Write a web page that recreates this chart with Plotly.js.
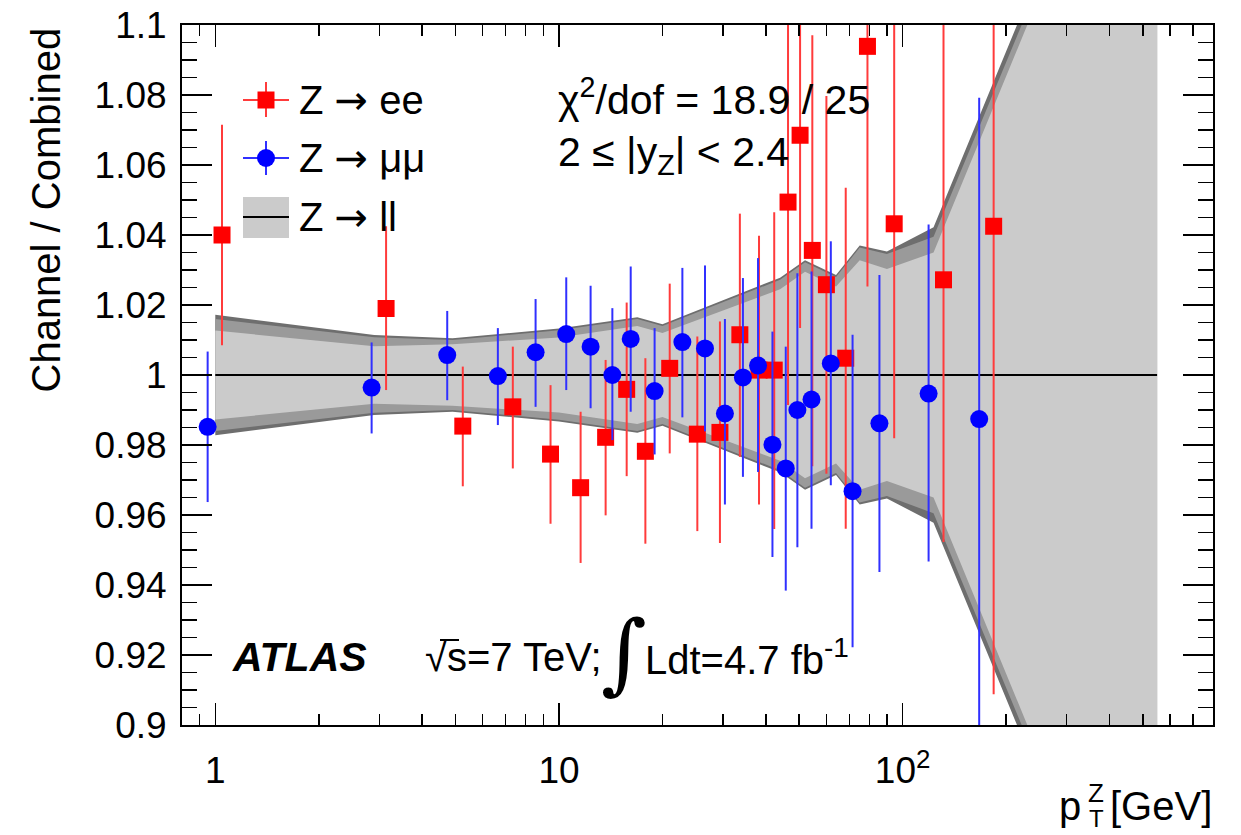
<!DOCTYPE html>
<html>
<head>
<meta charset="utf-8">
<script src="https://cdn.plot.ly/plotly-3.0.1.min.js"></script>
<style>html,body{margin:0;padding:0;background:#fff;}#chart{width:1241px;height:835px;}</style>
</head>
<body>
<div id="chart"></div>
<script>
// ---- Data ----
// Z -> ee
var ptEE    = [1.046, 3.14, 5.25, 7.34, 9.45, 11.56, 13.67, 15.74, 17.84, 21.0, 25.27, 29.4, 33.6, 38.2, 42.3, 46.4, 50.3, 54.6, 60.0, 68.3, 79.0, 94.5, 131.5, 184];
var ratioEE = [1.040, 1.019, 0.9854, 0.9909, 0.9774, 0.9678, 0.9822, 0.9959, 0.9782, 1.0019, 0.9831, 0.9836, 1.0115, 1.0014, 1.0014, 1.0494, 1.0685, 1.0356, 1.0258, 1.0048, 1.0939, 1.0432, 1.0272, 1.0425];
var errEEup = [0.0315, 0.0235, 0.017, 0.0172, 0.0197, 0.0217, 0.0221, 0.0248, 0.0266, 0.0242, 0.0279, 0.0317, 0.0346, 0.0384, 0.0451, 0.058, 0.055, 0.0615, 0.0539, 0.0487, 0.0686, 0.0613, 0.075, 0.134];
var errEEdn = [0.0315, 0.0233, 0.0172, 0.0176, 0.0199, 0.0215, 0.0223, 0.0248, 0.0264, 0.0243, 0.0277, 0.0316, 0.0349, 0.0384, 0.0454, 0.058, 0.0551, 0.0617, 0.054, 0.0487, 0.0686, 0.0613, 0.0749, 0.1337];
// Z -> mumu
var ptMM    = [0.95, 2.85, 4.73, 6.64, 8.55, 10.5, 12.36, 14.3, 16.17, 18.98, 22.86, 26.6, 30.4, 34.3, 37.95, 41.8, 45.7, 49.4, 54.3, 61.8, 71.5, 85.6, 119, 167];
var ratioMM = [0.9852, 0.9964, 1.0057, 0.9997, 1.0065, 1.0117, 1.0081, 1.0000, 1.0103, 0.9954, 1.0094, 1.0076, 0.989, 0.9993, 1.0027, 0.9801, 0.9733, 0.99, 0.993, 1.0033, 0.9668, 0.9862, 0.9947, 0.9874];
var errMMup = [0.0215, 0.0129, 0.0126, 0.0137, 0.0152, 0.0162, 0.0174, 0.0191, 0.0207, 0.018, 0.0212, 0.0237, 0.027, 0.0284, 0.0307, 0.0323, 0.0348, 0.0391, 0.0366, 0.0349, 0.0447, 0.0424, 0.0483, 0.0918];
var errMMdn = [0.0215, 0.0131, 0.0129, 0.014, 0.0156, 0.016, 0.0176, 0.0186, 0.0208, 0.0181, 0.0215, 0.0237, 0.026, 0.0284, 0.0304, 0.0321, 0.0349, 0.0392, 0.0369, 0.0348, 0.0446, 0.0425, 0.048, 0.092];
// Combined Z -> ll uncertainty band (half widths around 1)
var bandPt    = [1, 2.9, 4.9, 10, 16.9, 20, 44, 52, 64, 75, 90, 123, 550];
var bandDark  = [0.0172, 0.0114, 0.0105, 0.0133, 0.0165, 0.0145, 0.0278, 0.0328, 0.0286, 0.0370, 0.0353, 0.0422, 0.197];
var bandMid   = [0.0160, 0.0108, 0.0100, 0.0128, 0.0160, 0.0140, 0.0272, 0.0322, 0.0280, 0.0364, 0.0346, 0.0395, 0.193];
var bandInner = [0.0127, 0.0082, 0.0088, 0.0107, 0.0140, 0.0120, 0.0245, 0.0295, 0.0253, 0.0328, 0.0303, 0.0350, 0.190];
var combinedRatio = 1.0;
// Axis ticks
var yTickVals = [0.9, 0.92, 0.94, 0.96, 0.98, 1.0, 1.02, 1.04, 1.06, 1.08, 1.1];
var yTickText = ['0.9', '0.92', '0.94', '0.96', '0.98', '1', '1.02', '1.04', '1.06', '1.08', '1.1'];
var xTickVals = [1, 10, 100];
var xTickText = ['1', '10', '10<sup>2</sup>'];

// ---- Build ----
var xMinor = [];
[0.1, 1, 10, 100].forEach(function (d) {
  for (var k = 2; k <= 9; k++) { var v = k * d; if (v >= 0.8 && v <= 800) xMinor.push(v); }
});

function bandPoly(hw) {
  var xs = bandPt.concat(bandPt.slice().reverse());
  var ys = bandPt.map(function (p, i) { return combinedRatio + hw[i]; })
    .concat(bandPt.map(function (p, i) { return combinedRatio - hw[i]; }).reverse());
  return { x: xs, y: ys };
}
var FONT = 'Liberation Sans, Arial, Helvetica, sans-serif';
var ARROW = '<span style="font-family:DejaVu Sans">\u2192</span>';
var traces = [];
var pd = bandPoly(bandDark), pm = bandPoly(bandMid), pi = bandPoly(bandInner);
traces.push({ x: pd.x, y: pd.y, mode: 'lines', fill: 'toself', fillcolor: '#6e6e6e', line: { width: 0, color: 'rgba(0,0,0,0)' }, hoverinfo: 'skip' });
traces.push({ x: pm.x, y: pm.y, mode: 'lines', fill: 'toself', fillcolor: '#9a9a9a', line: { width: 0, color: 'rgba(0,0,0,0)' }, hoverinfo: 'skip' });
traces.push({ x: pi.x, y: pi.y, mode: 'lines', fill: 'toself', fillcolor: '#cbcbcb', line: { width: 0, color: 'rgba(0,0,0,0)' }, hoverinfo: 'skip' });
traces.push({ x: [bandPt[0], bandPt[bandPt.length - 1]], y: [combinedRatio, combinedRatio], mode: 'lines', line: { color: '#000', width: 2 }, hoverinfo: 'skip' });
traces.push({
  x: ptEE, y: ratioEE, mode: 'markers', type: 'scatter',
  marker: { symbol: 'square', size: 17, color: '#ff0000' },
  error_y: { type: 'data', symmetric: false, array: errEEup, arrayminus: errEEdn, color: '#ff3b3b', thickness: 2, width: 0 }
});
traces.push({
  x: ptMM, y: ratioMM, mode: 'markers', type: 'scatter',
  marker: { symbol: 'circle', size: 18, color: '#0000ff' },
  error_y: { type: 'data', symmetric: false, array: errMMup, arrayminus: errMMdn, color: '#3030ff', thickness: 2, width: 0 }
});

// pixel -> paper helpers (plot area 182..1213 x 25..725)
var L = 182, R = 1213, T = 25, B = 725;
function px(x) { return (x - L) / (R - L); }
function py(y) { return (B - y) / (B - T); }

function ann(text, x, y, size, xa, extra) {
  var a = { text: text, xref: 'paper', yref: 'paper', x: px(x), y: py(y), xanchor: xa || 'left', yanchor: 'middle', showarrow: false, font: { family: FONT, size: size, color: '#000' } };
  if (extra) for (var k in extra) a[k] = extra[k];
  return a;
}
var annotations = [
  ann('Z ' + ARROW + ' ee', 297, 100, 40),
  ann('Z ' + ARROW + ' \u03bc\u03bc', 297, 158, 40),
  ann('Z ' + ARROW + ' ll', 297, 217, 40),
  ann('\u03c7<sup>2</sup>/dof = 18.9 / 25', 556, 97, 41),
  ann('2 \u2264 |y<sub>Z</sub>| < 2.4', 556, 155, 41),
  ann('<b><i>ATLAS</i></b>', 230, 657, 41),
  ann('\u221as=7 TeV;', 423, 657, 40),
  ann('\u222b', 624, 652, 88, 'center', { font: { family: 'DejaVu Serif', size: 88, color: '#000' } }),
  ann('Ldt=4.7 fb<sup>-1</sup>', 643, 657, 40),
  ann('Channel / Combined', 45, 26, 40, 'center', { textangle: -90, yanchor: 'top' }),
  ann('[GeV]', 1214, 806, 40, 'right'),
  ann('p', 1070, 806, 40, 'center'),
  ann('Z', 1096, 793, 26, 'center'),
  ann('T', 1096, 818, 24, 'center')
];

function shp(type, x0, y0, x1, y1, opts) {
  var s = { type: type, xref: 'paper', yref: 'paper', x0: px(x0), y0: py(y0), x1: px(x1), y1: py(y1), layer: 'above' };
  for (var k in opts) s[k] = opts[k];
  return s;
}
var shapes = [
  shp('line', 243, 100, 289, 100, { line: { color: '#ff3b3b', width: 2 } }),
  shp('line', 266, 82, 266, 117, { line: { color: '#ff3b3b', width: 2 } }),
  shp('rect', 257.5, 91.5, 274.5, 108.5, { fillcolor: '#ff0000', line: { width: 0 } }),
  shp('line', 243, 158, 289, 158, { line: { color: '#3030ff', width: 2 } }),
  shp('line', 266, 141, 266, 175, { line: { color: '#3030ff', width: 2 } }),
  shp('circle', 257, 149, 275, 167, { fillcolor: '#0000ff', line: { width: 0 } }),
  shp('rect', 243, 197, 289, 238, { fillcolor: '#cbcbcb', line: { width: 0 } }),
  shp('line', 243, 217, 289, 217, { line: { color: '#000', width: 2 } }),
  // overline of the square root
  shp('line', 440, 640, 459, 640, { line: { color: '#000', width: 2 } })
];

var layout = {
  width: 1241, height: 835,
  margin: { l: L, r: 1241 - R, t: T, b: 835 - B, pad: 0 },
  paper_bgcolor: '#fff', plot_bgcolor: '#fff',
  showlegend: false,
  font: { family: FONT, color: '#000' },
  xaxis: {
    type: 'log', range: [Math.log10(0.8), Math.log10(800)],
    tickmode: 'array', tickvals: xTickVals, ticktext: xTickText,
    ticks: 'inside', ticklen: 22, tickwidth: 1.5, tickcolor: '#000',
    minor: { tickmode: 'array', tickvals: xMinor, ticks: 'inside', ticklen: 11, tickwidth: 1.5, tickcolor: '#000', showgrid: false },
    showline: true, linecolor: '#000', linewidth: 2, mirror: 'allticks',
    showgrid: false, zeroline: false,
    tickfont: { family: FONT, size: 37, color: '#000' },
    ticklabelstandoff: 12
  },
  yaxis: {
    range: [0.9, 1.1],
    tickmode: 'array', tickvals: yTickVals, ticktext: yTickText,
    ticks: 'inside', ticklen: 30, tickwidth: 1.5, tickcolor: '#000',
    minor: { dtick: 0.005, ticks: 'inside', ticklen: 15, tickwidth: 1.5, tickcolor: '#000', showgrid: false },
    showline: true, linecolor: '#000', linewidth: 2, mirror: 'allticks',
    showgrid: false, zeroline: false,
    tickfont: { family: FONT, size: 37, color: '#000' },
    ticklabelstandoff: 6
  },
  annotations: annotations,
  shapes: shapes
};
Plotly.newPlot('chart', traces, layout, { displayModeBar: false, staticPlot: true });
</script>
</body>
</html>
